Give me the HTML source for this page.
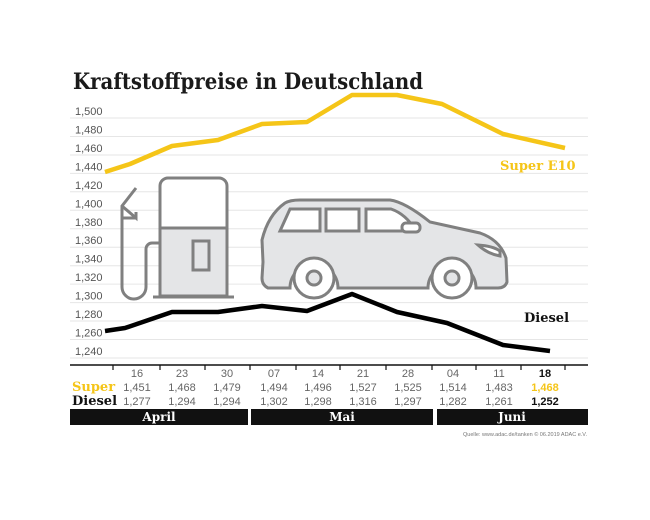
<!DOCTYPE html>
<html><head><meta charset="utf-8"><style>
body{margin:0;background:#fff}
.s{font-family:"Liberation Sans",sans-serif}
.d{font-family:"DejaVu Serif","Liberation Serif",serif}
</style></head><body>
<svg width="650" height="515" viewBox="0 0 650 515" xmlns="http://www.w3.org/2000/svg">
<text class="d" x="73" y="89" font-weight="bold" font-size="22" fill="#1a1a1a" textLength="350" lengthAdjust="spacingAndGlyphs">Kraftstoffpreise in Deutschland</text>
<g stroke="#e6e6e6" stroke-width="1">
<line x1="70" x2="588" y1="118" y2="118"/><line x1="70" x2="588" y1="136.5" y2="136.5"/><line x1="70" x2="588" y1="155" y2="155"/><line x1="70" x2="588" y1="173.4" y2="173.4"/><line x1="70" x2="588" y1="191.8" y2="191.8"/><line x1="70" x2="588" y1="210.3" y2="210.3"/><line x1="70" x2="588" y1="228.8" y2="228.8"/><line x1="70" x2="588" y1="247.2" y2="247.2"/><line x1="70" x2="588" y1="265.7" y2="265.7"/><line x1="70" x2="588" y1="284.1" y2="284.1"/><line x1="70" x2="588" y1="302.6" y2="302.6"/><line x1="70" x2="588" y1="321" y2="321"/><line x1="70" x2="588" y1="339.5" y2="339.5"/><line x1="70" x2="588" y1="358" y2="358"/>
</g>
<g class="s" font-size="11" fill="#555">
<text x="75" y="115">1,500</text><text x="75" y="133.5">1,480</text><text x="75" y="152">1,460</text><text x="75" y="170.4">1,440</text><text x="75" y="188.8">1,420</text><text x="75" y="207.3">1,400</text><text x="75" y="225.8">1,380</text><text x="75" y="244.2">1,360</text><text x="75" y="262.7">1,340</text><text x="75" y="281.1">1,320</text><text x="75" y="299.6">1,300</text><text x="75" y="318">1,280</text><text x="75" y="336.5">1,260</text><text x="75" y="355">1,240</text>
</g>
<!-- pump -->
<g stroke="#808080" stroke-width="3" fill="none">
<path d="M160,228 V186 a8,8 0 0 1 8,-8 h51 a8,8 0 0 1 8,8 V228 Z" fill="#fff"/>
<rect x="160" y="228" width="67" height="68" fill="#e4e5e7"/>
<rect x="193" y="241" width="16" height="29"/>
<line x1="153" y1="297" x2="234" y2="297"/>
<path d="M160,243 h-8 a6,6 0 0 0 -6,6 v38 a12,12 0 0 1 -24,0 V218"/>
<path d="M122,218 V206 L136,188 M122,206 L136,218 L136,212 M122,218 h14"/>
</g>
<!-- car -->
<g stroke="#808080" stroke-width="3">
<path d="M263,262 L262,240 Q268,215 285,203 Q290,200 300,200 L390,200 Q405,202 430,222 L480,233 Q500,240 506,258 L507,282 Q505,288 498,288 L476,288 A24,24 0 0 0 428,288 L338,288 A24,24 0 0 0 290,288 L268,288 Q262,285 262,278 Z" fill="#e4e5e7"/>
<path d="M280,231 L290,209 h30 v22 Z M326,209 h33 v22 h-33 Z M366,209 h25 q15,5 25,22 h-50 Z" fill="#fff"/>
<rect x="402" y="223" width="18" height="9" rx="4" fill="#fff"/>
<path d="M478,245 q15,1 22,6 v5 q-12,-2 -22,-11z" fill="#fff"/>
<circle cx="314" cy="278" r="20" fill="#fff"/><circle cx="314" cy="278" r="7" fill="#e4e5e7"/>
<circle cx="452" cy="278" r="20" fill="#fff"/><circle cx="452" cy="278" r="7" fill="#e4e5e7"/>
</g>
<polyline fill="none" stroke="#f5c518" stroke-width="4.5" stroke-linejoin="round" points="105,172 130,164 172,146 218,140 262,124 307,122 352,95 397,95 442,104 503,134 565,148"/>
<polyline fill="none" stroke="#000" stroke-width="4.5" stroke-linejoin="round" points="105,331 125,328 172,312 218,312 262,306 307,311 352,294 397,312 447,323 503,345 550,351"/>
<text class="d" x="500" y="170" font-size="13" font-weight="bold" fill="#f5c518">Super E10</text>
<text class="d" x="524" y="322" font-size="13" font-weight="bold" fill="#111">Diesel</text>
<line x1="70" x2="588" y1="365" y2="365" stroke="#111" stroke-width="1.5"/>
<g stroke="#111" stroke-width="1.2">
<line x1="113" x2="113" y1="365" y2="370"/><line x1="160" x2="160" y1="365" y2="370"/><line x1="205" x2="205" y1="365" y2="370"/><line x1="250" x2="250" y1="365" y2="370"/><line x1="296" x2="296" y1="365" y2="370"/><line x1="340" x2="340" y1="365" y2="370"/><line x1="386" x2="386" y1="365" y2="370"/><line x1="432" x2="432" y1="365" y2="370"/><line x1="476" x2="476" y1="365" y2="370"/><line x1="521" x2="521" y1="365" y2="370"/><line x1="565" x2="565" y1="365" y2="370"/>
</g>
<g class="s" font-size="11" fill="#666" text-anchor="middle">
<text x="137" y="377">16</text><text x="182" y="377">23</text><text x="227" y="377">30</text><text x="274" y="377">07</text><text x="318" y="377">14</text><text x="363" y="377">21</text><text x="408" y="377">28</text><text x="453" y="377">04</text><text x="499" y="377">11</text><text x="545" y="377" font-weight="bold" fill="#111">18</text>
<text x="137" y="391">1,451</text><text x="182" y="391">1,468</text><text x="227" y="391">1,479</text><text x="274" y="391">1,494</text><text x="318" y="391">1,496</text><text x="363" y="391">1,527</text><text x="408" y="391">1,525</text><text x="453" y="391">1,514</text><text x="499" y="391">1,483</text><text x="545" y="391" font-weight="bold" fill="#f5c518">1,468</text>
<text x="137" y="405">1,277</text><text x="182" y="405">1,294</text><text x="227" y="405">1,294</text><text x="274" y="405">1,302</text><text x="318" y="405">1,298</text><text x="363" y="405">1,316</text><text x="408" y="405">1,297</text><text x="453" y="405">1,282</text><text x="499" y="405">1,261</text><text x="545" y="405" font-weight="bold" fill="#111">1,252</text>
</g>
<text class="d" x="72" y="391" font-size="13" font-weight="bold" fill="#f5c518">Super</text>
<text class="d" x="72" y="405" font-size="13" font-weight="bold" fill="#111">Diesel</text>
<rect x="70" y="409" width="178" height="16" fill="#111"/>
<rect x="251" y="409" width="182" height="16" fill="#111"/>
<rect x="437" y="409" width="151" height="16" fill="#111"/>
<g class="d" font-size="12" font-weight="bold" fill="#fff" text-anchor="middle">
<text x="159" y="421">April</text><text x="342" y="421">Mai</text><text x="512" y="421">Juni</text>
</g>
<text class="s" x="587" y="436" font-size="5.5" fill="#777" text-anchor="end">Quelle: www.adac.de/tanken   © 06.2019  ADAC e.V.</text>
</svg>
</body></html>
